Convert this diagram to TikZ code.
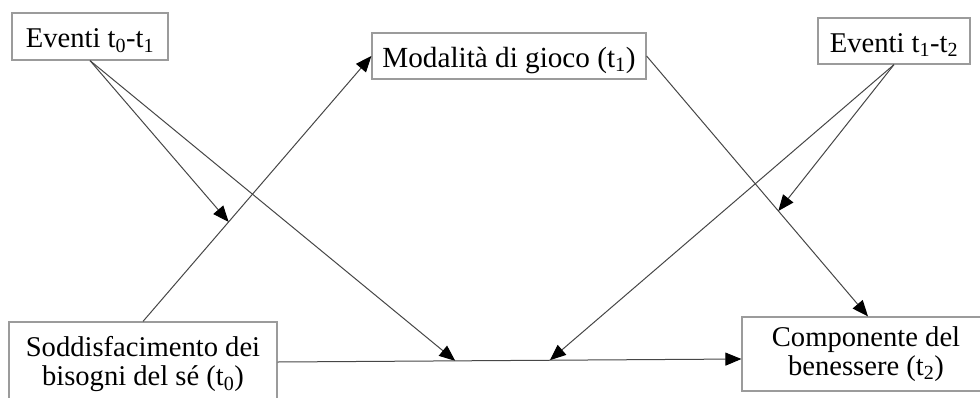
\documentclass[tikz,border=0pt]{standalone}
\usepackage{fontspec}
\setmainfont{Liberation Serif}
\usetikzlibrary{arrows.meta,calc}
\definecolor{boxgray}{RGB}{155,155,155}
\definecolor{linegray}{RGB}{70,70,70}
\begin{document}
\begin{tikzpicture}[x=1pt,y=-1pt,
  box/.style={draw=boxgray,line width=1.2pt,inner sep=0pt,font=\fontsize{28.6}{28.6}\selectfont},
  one/.style={box,text height=22pt,text depth=0pt},
  two/.style={box,align=center},
  conn/.style={draw=linegray,line width=1pt,-{Triangle[length=16pt,width=13pt,black]}}]
\useasboundingbox (0,0) rectangle (980,397);
\clip (0,0) rectangle (980,397);
\node[one,minimum width=156pt,minimum height=47pt] (ev01) at (90,36.5) {Eventi t\textsubscript{0}-t\textsubscript{1}};
\node[one,font=\fontsize{29.2}{29.2}\selectfont,minimum width=274pt,minimum height=46pt] (mod) at (509,56) {Modalità di gioco (t\textsubscript{1})};
\node[one,minimum width=152pt,minimum height=46pt] (ev12) at (894,41) {Eventi t\textsubscript{1}-t\textsubscript{2}};
\node[two,minimum width=268pt,minimum height=84pt] (sod) at (143,364) {Soddisfacimento dei\\bisogni del sé (t\textsubscript{0})};
\node[two,minimum width=248pt,minimum height=74pt] (comp) at (866,354) {Componente del\\benessere (t\textsubscript{2})};
\coordinate (hs) at ($(sod.east)+(0,-2)$);
\coordinate (he) at ($(comp.west)+(0,5)$);
\coordinate (ct) at ($(comp.north)+(2,0)$);
\path (sod.north) -- (mod.west) coordinate[pos=0.375] (p1);
\path (hs) -- (he) coordinate[pos=0.383] (h1) coordinate[pos=0.587] (h2);
\path (mod.east) -- (ct) coordinate[pos=0.595] (p2);
\draw[conn] (sod.north) -- (mod.west);
\draw[conn] (mod.east) -- (ct);
\draw[conn] (ev01.south) -- (p1);
\draw[conn] (ev01.south) -- (h1);
\draw[conn] (ev12.south) -- (p2);
\draw[conn] (ev12.south) -- (h2);
\draw[conn] (hs) -- (he);
\end{tikzpicture}
\end{document}
